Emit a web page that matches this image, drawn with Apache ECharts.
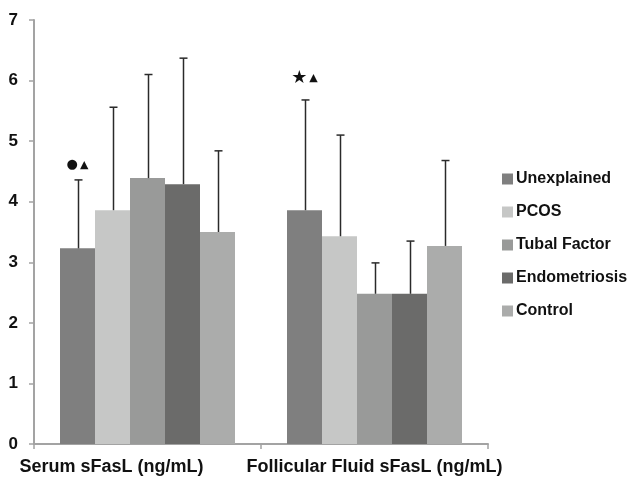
<!DOCTYPE html>
<html>
<head>
<meta charset="utf-8">
<script src="https://cdn.jsdelivr.net/npm/echarts@6/dist/echarts.min.js"></script>
<style>
  html, body { margin: 0; padding: 0; background: #fff; }
  #main { width: 641px; height: 477px; }
</style>
</head>
<body>
<div id="main"></div>
<script>
var categories = ['Serum sFasL (ng/mL)', 'Follicular Fluid sFasL (ng/mL)'];
var groups = ['Unexplained', 'PCOS', 'Tubal Factor', 'Endometriosis', 'Control'];
var colors = ['#7f7f7f', '#c6c7c6', '#999a99', '#6b6b6a', '#abacab'];

// mean per group, [serum, follicular]
var unexplained = [3.23, 3.86];
var pcos = [3.86, 3.43];
var tubal = [4.39, 2.48];
var endo = [4.29, 2.48];
var control = [3.50, 3.27];

// top of the error whisker, [serum, follicular]
var unexplainedErr = [4.36, 5.68];
var pcosErr = [5.56, 5.10];
var tubalErr = [6.10, 2.99];
var endoErr = [6.37, 3.35];
var controlErr = [4.84, 4.68];

// significance marks: [category index, group index, y value, first glyph, second glyph]
var marks = [[0, 0, 4.61, '●', '▲'], [1, 0, 6.04, '★', '▲']];

var yTicks = [0, 1, 2, 3, 4, 5, 6, 7];

var means = [unexplained, pcos, tubal, endo, control];
var errs = [unexplainedErr, pcosErr, tubalErr, endoErr, controlErr];
var barW = 35;
var font = 'Liberation Sans, Arial, sans-serif';

var series = [];
groups.forEach(function (g, i) {
    series.push({
        name: g,
        type: 'bar',
        barWidth: barW,
        barGap: '0%',
        data: means[i],
        itemStyle: { color: colors[i] },
        z: 2
    });
});

// error bars, upper half only
var errData = [];
errs.forEach(function (arr, gi) {
    arr.forEach(function (top, ci) {
        errData.push([ci, means[gi][ci], top, gi]);
    });
});

series.push({
    name: 'err',
    type: 'custom',
    z: 3,
    renderItem: function (params, api) {
        var gi = api.value(3);
        var off = (gi - 2) * barW;
        var lo = api.coord([api.value(0), api.value(1)]);
        var hi = api.coord([api.value(0), api.value(2)]);
        var x = Math.round(lo[0] + off) + 0.5;
        var st = { stroke: '#2a2a2a', lineWidth: 1.5 };
        return {
            type: 'group',
            children: [
                { type: 'line', shape: { x1: x, y1: lo[1], x2: x, y2: hi[1] }, style: st },
                { type: 'line', shape: { x1: x - 4, y1: hi[1], x2: x + 4, y2: hi[1] }, style: st }
            ]
        };
    },
    encode: { x: 0, y: 2 },
    data: errData
});

series.push({
    name: 'marks',
    type: 'custom',
    z: 4,
    renderItem: function (params, api) {
        var m = marks[params.dataIndex];
        var p = api.coord([api.value(0), api.value(2)]);
        var big = m[3] === '★' ? 18 : 13;
        return {
            type: 'text',
            style: {
                x: p[0] + (m[1] - 2) * barW,
                y: p[1],
                text: '{a|' + m[3] + '}{b|' + m[4] + '}',
                align: 'center',
                verticalAlign: 'middle',
                rich: {
                    a: { fontSize: big, fontFamily: 'DejaVu Sans', fill: '#111', color: '#111', padding: [0, 2, 0, 0] },
                    b: { fontSize: 11, fontFamily: 'DejaVu Sans', fill: '#111', color: '#111' }
                }
            }
        };
    },
    encode: { x: 0, y: 2 },
    data: marks.map(function (m) { return [m[0], m[1], m[2]]; })
});

var chart = echarts.init(document.getElementById('main'));
chart.setOption({
    backgroundColor: '#ffffff',
    animation: false,
    grid: { left: 34, right: 153, top: 20, bottom: 33 },
    legend: {
        data: groups,
        orient: 'vertical',
        left: 497,
        top: 166,
        itemWidth: 11,
        itemHeight: 11,
        itemGap: 17,
        icon: 'rect',
        textStyle: { fontFamily: font, fontWeight: 'bold', fontSize: 16, color: '#111', padding: [0, 0, 0, -2] }
    },
    xAxis: {
        type: 'category',
        data: categories,
        axisLine: { lineStyle: { color: '#a3a3a3', width: 2 } },
        axisTick: { show: true, length: 5, lineStyle: { color: '#a3a3a3', width: 1.5 } },
        axisLabel: {
            interval: 0,
            fontFamily: font, fontWeight: 'bold', fontSize: 18, color: '#111', margin: 14,
            formatter: function (v, i) { return i === 0 ? '{l|' + v + '}' : v; },
            rich: { l: { fontFamily: font, fontWeight: 'bold', fontSize: 18, color: '#111', padding: [0, 72, 0, 0] } }
        }
    },
    yAxis: {
        type: 'value',
        min: 0,
        max: 7,
        interval: 1,
        splitLine: { show: false },
        axisLine: { show: true, lineStyle: { color: '#a3a3a3', width: 2 } },
        axisTick: { show: true, length: 5, lineStyle: { color: '#a3a3a3', width: 1.5 } },
        axisLabel: {
            fontFamily: font, fontWeight: 'bold', fontSize: 17, color: '#111', margin: 16,
            formatter: function (v) { return yTicks.indexOf(v) >= 0 ? String(v) : ''; }
        }
    },
    series: series
});
</script>
</body>
</html>
